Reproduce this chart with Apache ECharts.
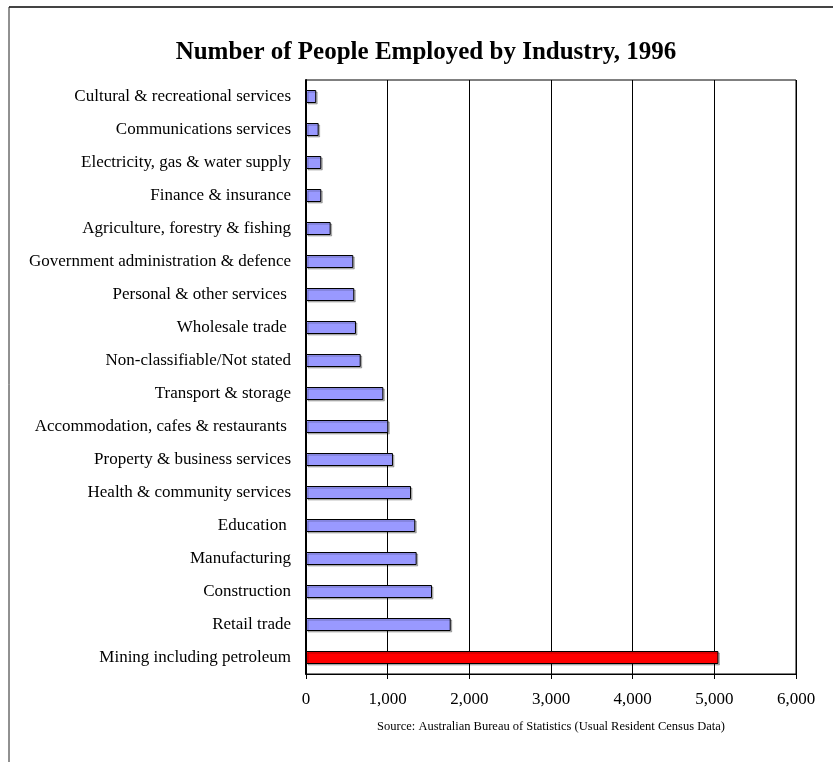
<!DOCTYPE html>
<html>
<head>
<meta charset="utf-8">
<style>
  html, body { margin: 0; padding: 0; background: #fff; }
  #chart { width: 833px; height: 762px; }
</style>
<script src="https://cdn.jsdelivr.net/npm/echarts@6/dist/echarts.min.js"></script>
</head>
<body>
<div id="chart"></div>
<script>
// Industries listed top to bottom
const industries = [
  'Cultural & recreational services',
  'Communications services',
  'Electricity, gas & water supply',
  'Finance & insurance',
  'Agriculture, forestry & fishing',
  'Government administration & defence',
  'Personal & other services ',
  'Wholesale trade ',
  'Non-classifiable/Not stated',
  'Transport & storage',
  'Accommodation, cafes & restaurants ',
  'Property & business services',
  'Health & community services',
  'Education ',
  'Manufacturing',
  'Construction',
  'Retail trade',
  'Mining including petroleum'
];

// Number of people employed in each industry
const employed = [
  125, 155, 187, 187, 302, 579, 591, 612, 670,
  947, 1008, 1065, 1286, 1338, 1355, 1543, 1772, 5050
];

// Highlighted industry
const highlight = 'Mining including petroleum';

const xTicks = { min: 0, max: 6000, interval: 1000 };

const titleText = 'Number of People Employed by Industry, 1996';
const sourceText = 'Source: Australian Bureau of Statistics (Usual Resident Census Data)';

const serif = '"Liberation Serif", "Times New Roman", serif';

const chart = echarts.init(document.getElementById('chart'), null, { renderer: 'canvas' });

chart.setOption({
  animation: false,
  backgroundColor: '#fff',
  grid: {
    left: 306, right: 37, top: 80, bottom: 88,
    show: true, borderColor: '#000', borderWidth: 1,
    containLabel: false
  },
  xAxis: {
    type: 'value',
    min: xTicks.min, max: xTicks.max, interval: xTicks.interval,
    axisLine: { show: true, lineStyle: { color: '#000', width: 1 } },
    axisTick: { show: true, length: 5, lineStyle: { color: '#000' } },
    splitLine: { show: true, lineStyle: { color: '#000', width: 1 } },
    axisLabel: {
      margin: 17,
      color: '#000',
      fontFamily: serif,
      fontSize: 17,
      formatter: v => v.toLocaleString('en-US')
    }
  },
  yAxis: {
    type: 'category',
    inverse: true,
    data: industries,
    axisLine: { show: true, lineStyle: { color: '#000', width: 2 } },
    axisTick: { show: false },
    splitLine: { show: false },
    axisLabel: {
      margin: 15,
      color: '#000',
      fontFamily: serif,
      fontSize: 17
    }
  },
  series: [{
    type: 'bar',
    barWidth: 13,
    data: industries.map((name, i) => ({
      value: employed[i],
      itemStyle: { color: name === highlight ? '#ff0000' : '#9999ff' }
    })),
    itemStyle: {
      borderColor: '#000',
      borderWidth: 1,
      shadowColor: 'rgba(0,0,0,0.25)',
      shadowOffsetX: 1.5,
      shadowOffsetY: 1.5,
      shadowBlur: 0
    }
  }],
  graphic: [
    // outer frame lines
    { type: 'line', shape: { x1: 9, y1: 7, x2: 833, y2: 7 }, style: { stroke: '#444', lineWidth: 2 }, silent: true },
    { type: 'line', shape: { x1: 9, y1: 7, x2: 9, y2: 762 }, style: { stroke: '#222', lineWidth: 1 }, silent: true },
    {
      type: 'text', silent: true,
      style: {
        text: titleText,
        x: 426, y: 53,
        align: 'center', verticalAlign: 'middle',
        font: 'bold 25px ' + serif,
        fill: '#000'
      }
    },
    {
      type: 'text', silent: true,
      style: {
        text: sourceText,
        x: 551, y: 727,
        align: 'center', verticalAlign: 'middle',
        font: '12.5px ' + serif,
        fill: '#000'
      }
    }
  ]
});
</script>
</body>
</html>
